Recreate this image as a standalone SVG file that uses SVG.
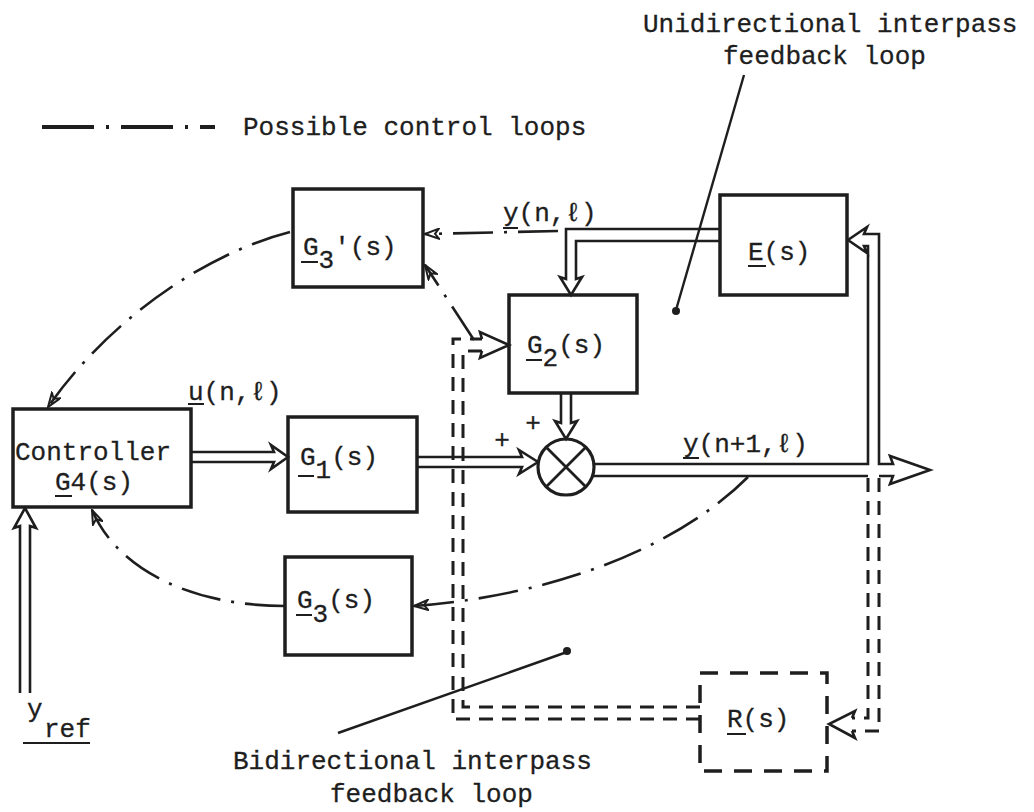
<svg xmlns="http://www.w3.org/2000/svg" width="1034" height="812" viewBox="0 0 1034 812">
<defs>
<style>
.box{fill:none;stroke:#1e1e1e;stroke-width:3.5}
.dbox{fill:none;stroke:#1e1e1e;stroke-width:3.5;stroke-dasharray:18 12}
.t{font-family:"Liberation Mono","DejaVu Sans Mono",monospace;font-size:26px;fill:#1e1e1e;stroke:#1e1e1e;stroke-width:0.3}
.ln{fill:none;stroke:#1e1e1e;stroke-width:2.6;stroke-linejoin:miter}
.dash{fill:none;stroke:#1e1e1e;stroke-width:3;stroke-dasharray:14 9}
.dd{fill:none;stroke:#1e1e1e;stroke-width:2.6;stroke-dasharray:40 11 3 11}
.ul{stroke:#1e1e1e;stroke-width:2}
.lead{fill:none;stroke:#1e1e1e;stroke-width:2.4}
</style>
<marker id="arr" viewBox="0 0 16 12" markerWidth="16" markerHeight="12" refX="15" refY="6" orient="auto" markerUnits="userSpaceOnUse">
<path d="M1,1 L15,6 L1,11 L5,6 Z" fill="none" stroke="#1e1e1e" stroke-width="2" stroke-dasharray="none"/>
</marker>
</defs>
<rect width="1034" height="812" fill="#ffffff"/>

<g id="legend">
<path d="M42,127 H215" fill="none" stroke="#1e1e1e" stroke-width="4" stroke-dasharray="52 12 3 12"/>
<text class="t" x="243" y="135">Possible control loops</text>
</g>

<g id="label-unidirectional">
<text class="t" x="643" y="32">Unidirectional interpass</text>
<text class="t" x="723" y="64">feedback loop</text>
<path class="lead" d="M744,75 L676,310"/>
<circle cx="676" cy="311" r="4" fill="#1e1e1e"/>
</g>

<g id="label-bidirectional">
<text class="t" x="233" y="769">Bidirectional interpass</text>
<text class="t" x="330" y="802">feedback loop</text>
<path class="lead" d="M338,733 L567,652"/>
<circle cx="567" cy="651" r="4" fill="#1e1e1e"/>
</g>

<g id="connectors">
<path class="ln" d="M191,452 H274 L271,445 L288,457 L271,469 L274,462 H191"/>
<path class="ln" d="M417,457 H522 L519,450 L538,462 L519,474 L522,467 H417"/>
<path class="ln" d="M561,393 V423 L555,421 L566,439 L577,421 L571,423 V393"/>
<path class="ln" d="M594,464 H868 V246 H864 L867,253 L848,240 L867,227 L864,234 H879 V464 H893 L890,456 L930,470 L890,484 L893,476 H879"/>
<path class="ln" d="M592,476 H868"/>
<path class="ln" d="M720,229 H566 V279 L560,277 L571,295 L582,277 L576,279 V241 H720"/>
<path class="dash" d="M868,478 V718 H852"/>
<path class="dash" d="M879,478 V731 H852"/>
<path class="ln" d="M852,718 L855,711 L829,724 L855,738 L852,731"/>
<path class="dash" d="M700,719 H453 V339 H482"/>
<path class="dash" d="M700,707 H463 V351 H482"/>
<path class="ln" d="M482,339 L480,332 L509,345 L480,358 L482,351"/>
<path class="ln" d="M20,693 V526 L14,528 L25,508 L36,528 L30,526 V693"/>
<path class="dd" d="M558,231 L425,234" marker-end="url(#arr)"/>
<path class="dd" d="M290,232 C200,255 105,325 48,407" marker-end="url(#arr)"/>
<path class="dd" d="M474,340 L425,265" marker-end="url(#arr)"/>
<path class="dd" d="M748,477 C680,545 560,595 414,606" marker-end="url(#arr)"/>
<path class="dd" d="M285,606 C200,606 120,575 92,510" marker-end="url(#arr)"/>
</g>

<g id="controller">
<rect class="box" x="13" y="409" width="178" height="98"/>
<text class="t" x="15" y="460">Controller</text>
<text class="t" x="55" y="490">G4(s)</text>
<line class="ul" x1="55" y1="496" x2="72" y2="496"/>
</g>

<g id="G3prime">
<rect class="box" x="293" y="189" width="130" height="98"/>
<text class="t" x="303" y="255">G<tspan dy="13">3</tspan><tspan dy="-13">'(s)</tspan></text>
<line class="ul" x1="301" y1="262" x2="318" y2="262"/>
</g>

<g id="E">
<rect class="box" x="720" y="195" width="127" height="100"/>
<text class="t" x="748" y="260">E(s)</text>
<line class="ul" x1="748" y1="266" x2="766" y2="266"/>
</g>

<g id="G2">
<rect class="box" x="509" y="295" width="128" height="98"/>
<text class="t" x="527" y="353">G<tspan dy="13">2</tspan><tspan dy="-13">(s)</tspan></text>
<line class="ul" x1="526" y1="360" x2="542" y2="360"/>
</g>

<g id="G1">
<rect class="box" x="288" y="417" width="129" height="95"/>
<text class="t" x="300" y="465">G<tspan dy="13">1</tspan><tspan dy="-13">(s)</tspan></text>
<line class="ul" x1="298" y1="476" x2="314" y2="476"/>
</g>

<g id="sum">
<circle cx="566" cy="467" r="28" fill="none" stroke="#1e1e1e" stroke-width="3.2"/>
<path d="M546,447 L586,487 M586,447 L546,487" stroke="#1e1e1e" stroke-width="2.8"/>
<text class="t" x="502" y="448" text-anchor="middle" font-size="22">+</text>
<text class="t" x="533" y="431" text-anchor="middle" font-size="22">+</text>
</g>

<g id="G3">
<rect class="box" x="285" y="557" width="127" height="98"/>
<text class="t" x="297" y="608">G<tspan dy="14">3</tspan><tspan dy="-14">(s)</tspan></text>
<line class="ul" x1="296" y1="615" x2="312" y2="615"/>
</g>

<g id="R">
<rect class="dbox" x="700" y="673" width="127" height="98"/>
<text class="t" x="727" y="727">R(s)</text>
<line class="ul" x1="727" y1="734" x2="746" y2="734"/>
</g>

<g id="signal-labels">
<text class="t" x="503" y="221">y(n,ℓ)</text>
<line class="ul" x1="503" y1="228" x2="518" y2="228"/>
<text class="t" x="188" y="400">u(n,ℓ)</text>
<line class="ul" x1="188" y1="404" x2="204" y2="404"/>
<text class="t" x="683" y="452">y(n+1,ℓ)</text>
<line class="ul" x1="683" y1="458" x2="699" y2="458"/>
<text class="t" x="27" y="717">y</text>
<text class="t" x="44" y="737">ref</text>
<line class="ul" x1="23" y1="743" x2="90" y2="743"/>
</g>
</svg>
